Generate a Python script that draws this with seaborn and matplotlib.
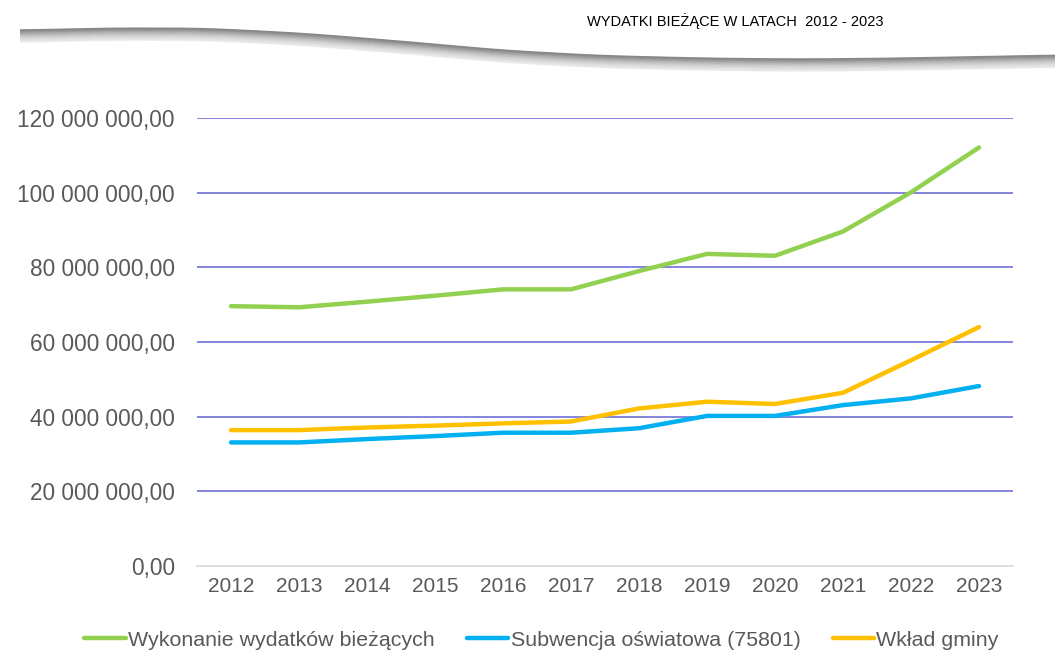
import numpy as np
import pandas as pd
import matplotlib
matplotlib.use("Agg")
import matplotlib.pyplot as plt
import seaborn as sns
from matplotlib.ticker import FuncFormatter, FixedLocator
from matplotlib.lines import Line2D

years = [2012, 2013, 2014, 2015, 2016, 2017, 2018, 2019, 2020, 2021, 2022, 2023]
wykonanie = [69.6, 69.3, 70.8, 72.4, 74.1, 74.1, 79.0, 83.6, 83.1, 89.6, 100.1, 112.1]
subwencja = [33.1, 33.1, 34.0, 34.8, 35.7, 35.7, 36.9, 40.2, 40.2, 43.1, 44.9, 48.2]
wklad = [36.4, 36.4, 37.1, 37.6, 38.2, 38.7, 42.2, 44.0, 43.4, 46.4, 55.1, 64.0]
series_names = ["Wykonanie wydatków bieżących", "Subwencja oświatowa (75801)", "Wkład gminy"]
series_colors = ["#92D050", "#00B0F0", "#FFC000"]
title_text = "WYDATKI BIEŻĄCE W LATACH  2012 - 2023"
y_ticks = [0, 20e6, 40e6, 60e6, 80e6, 100e6, 120e6]

df = pd.DataFrame({
    "rok": years * 3,
    "wartosc": [v * 1e6 for v in wykonanie + subwencja + wklad],
    "seria": [series_names[0]] * 12 + [series_names[1]] * 12 + [series_names[2]] * 12,
})

sns.set_theme(style="white")
plt.rcParams['font.family'] = ['Liberation Sans', 'DejaVu Sans']

fig = plt.figure(figsize=(10.55, 6.54), dpi=100)

# decorative wave swoosh (background overlay in pixel coordinates)
deco = fig.add_axes([0, 0, 1, 1], zorder=0)
deco.set_xlim(0, 1055)
deco.set_ylim(654, 0)
deco.axis("off")
wx = np.linspace(20, 1055, 600)
px = [20, 100, 200, 300, 400, 500, 600, 700, 800, 900, 1000, 1055]
py = [30, 28, 28, 33, 41, 50, 55.5, 58, 59, 58, 56, 55]
wy = np.interp(wx, px, py)
kern = np.ones(40) / 40
wy = np.convolve(np.pad(wy, 20, mode="edge"), kern, mode="same")[20:-20]
for k in np.arange(0, 13, 0.5):
    a = 0.8 * np.exp(-k / 5.0)
    deco.plot(wx, wy + k, color="#7A7A7A", alpha=a, linewidth=0.8, solid_capstyle="butt")

ax = fig.add_axes([197 / 1055, 1 - 566 / 654, (1013 - 197) / 1055, (566 - 118) / 654], zorder=1)
ax.patch.set_alpha(0)

sns.lineplot(data=df, x="rok", y="wartosc", hue="seria", palette=series_colors,
             hue_order=series_names, linewidth=3.2, ax=ax, legend=False)
for ln in ax.lines:
    ln.set_solid_capstyle("round")
    ln.set_solid_joinstyle("round")

ax.set_xlim(2011.5, 2023.5)
ax.set_ylim(0, 120e6)
ax.yaxis.set_major_locator(FixedLocator(y_ticks))
ax.xaxis.set_major_locator(FixedLocator(years))


def fmt(v, pos):
    s = f"{v:,.2f}"
    return s.replace(",", " ").replace(".", ",")


ax.yaxis.set_major_formatter(FuncFormatter(fmt))
ax.set_xlabel("")
ax.set_ylabel("")

for spine in ["top", "right", "left"]:
    ax.spines[spine].set_visible(False)
ax.spines["bottom"].set_color("#D9D9D9")
ax.spines["bottom"].set_linewidth(1.2)

ax.grid(axis="y", color="#7B7BDB", linewidth=1.3)
ax.grid(axis="x", visible=False)
ax.set_axisbelow(True)
ax.tick_params(axis="y", length=0, pad=16, labelsize=16.3, labelcolor="#595959")
ax.tick_params(axis="x", length=0, pad=8, labelsize=15, labelcolor="#595959")
ax.yaxis.get_gridlines()[0].set_visible(False)

handles = [Line2D([0], [0], color=c, linewidth=3.2, solid_capstyle="round") for c in series_colors]
leg = fig.legend(handles, series_names, loc="center", bbox_to_anchor=(541.5 / 1055, 1 - 640 / 654),
                 ncol=3, frameon=False, fontsize=15.4, handlelength=1.95, handletextpad=0.1,
                 columnspacing=1.5)
for t in leg.get_texts():
    t.set_color("#595959")

fig.text(735.5 / 1055, 1 - 21 / 654, title_text, ha="center", va="center", fontsize=10.5,
         color="#000000")

fig.savefig("out.png", dpi=100, facecolor="white")
